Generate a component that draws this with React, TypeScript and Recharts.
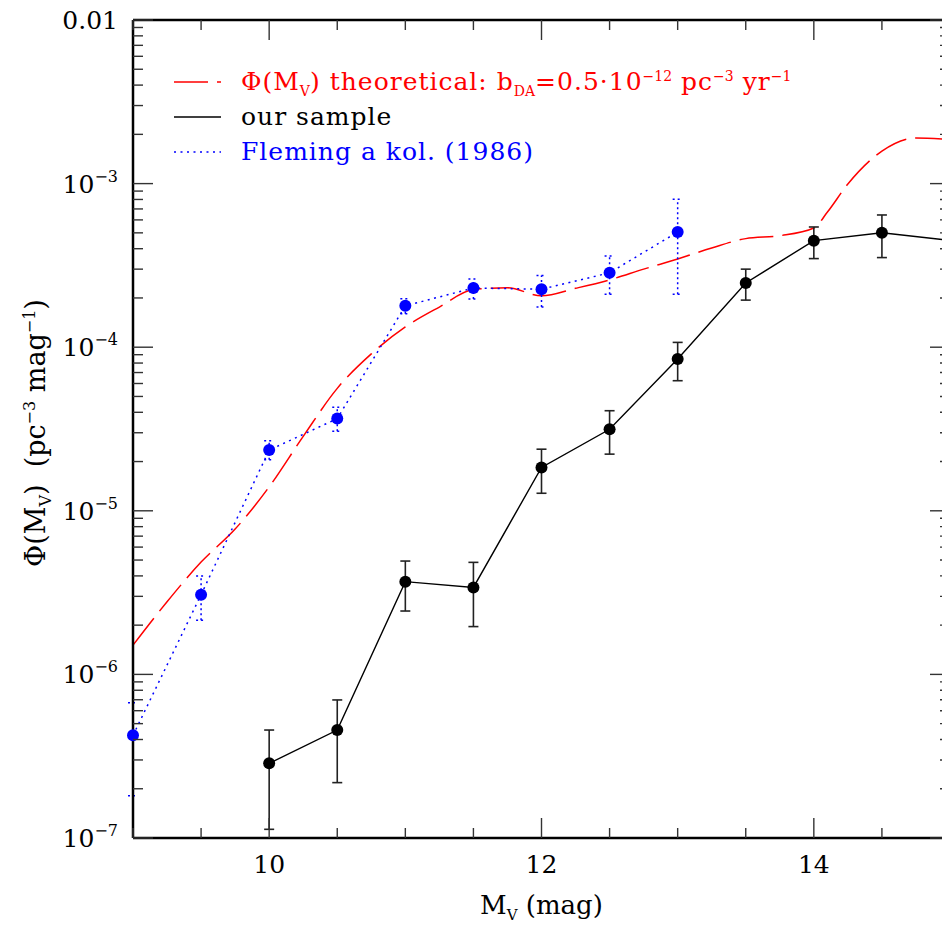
import React from 'react';
import { LineChart, Line, XAxis, YAxis, ErrorBar, Legend } from 'recharts';

const FONT = '"DejaVu Serif", "Liberation Serif", serif';
const RED = '#ff0000';
const BLUE = '#0000ff';
const TICK = '#333';

// theoretical luminosity function (dashed red)
const theoryMag = [9, 9.25, 9.5, 9.75, 10, 10.25, 10.5, 10.75, 11, 11.25, 11.5, 11.75, 12, 12.25, 12.5, 12.75, 13, 13.25, 13.5, 13.75, 14, 14.1, 14.25, 14.5, 14.75, 15];
const theoryPhi = [1.51e-6, 2.78e-6, 4.86e-6, 7.73e-6, 1.4e-5, 2.85e-5, 5.6e-5, 9.1e-5, 1.33e-4, 1.76e-4, 2.25e-4, 2.31e-4, 2.06e-4, 2.29e-4, 2.58e-4, 3.0e-4, 3.46e-4, 4.04e-4, 4.61e-4, 4.8e-4, 5.35e-4, 6.7e-4, 9.95e-4, 1.58e-3, 1.9e-3, 1.86e-3];

// our sample (black)
const sampleMag = [10, 10.5, 11, 11.5, 12, 12.5, 13, 13.5, 14, 14.5, 15];
const samplePhi = [2.86e-7, 4.57e-7, 3.69e-6, 3.4e-6, 1.84e-5, 3.15e-5, 8.47e-5, 2.47e-4, 4.48e-4, 5.01e-4, 4.5e-4];
const sampleLo = [1.13e-7, 2.18e-7, 2.44e-6, 1.96e-6, 1.28e-5, 2.22e-5, 6.24e-5, 1.94e-4, 3.48e-4, 3.53e-4, null];
const sampleHi = [4.57e-7, 6.98e-7, 4.93e-6, 4.84e-6, 2.38e-5, 4.09e-5, 1.07e-4, 3.0e-4, 5.43e-4, 6.43e-4, null];

// Fleming et al. (1986) (blue, dotted)
const flemingMag = [9, 9.5, 10, 10.5, 11, 11.5, 12, 12.5, 13];
const flemingPhi = [4.24e-7, 3.07e-6, 2.35e-5, 3.66e-5, 1.79e-4, 2.3e-4, 2.26e-4, 2.85e-4, 5.06e-4];
const flemingLo = [1.81e-7, 2.14e-6, 2.05e-5, 3.06e-5, 1.6e-4, 1.97e-4, 1.76e-4, 2.11e-4, 2.11e-4];
const flemingHi = [6.7e-7, 3.99e-6, 2.68e-5, 4.3e-5, 1.98e-4, 2.61e-4, 2.74e-4, 3.61e-4, 8.02e-4];

// axes
const xTicks = [9, 9.5, 10, 10.5, 11, 11.5, 12, 12.5, 13, 13.5, 14, 14.5, 15];
const xLabelled = [10, 12, 14];
const xMajor = [10, 12, 14];
const yDecades = [-7, -6, -5, -4, -3, -2];
const yMinor = [1, 2, 3, 4, 5, 6, 7, 8, 9];
const yTicks = yDecades.flatMap((e) => yMinor.map((m) => m * Math.pow(10, e))).filter((v) => v <= 1.0001e-2);

const legendOrder = ['theory', 'sample', 'fleming'];

const theoryData = theoryMag.map((m, i) => ({ mag: m, phi: theoryPhi[i] }));
const sampleData = sampleMag.map((m, i) => ({
  mag: m,
  phi: samplePhi[i],
  err: sampleLo[i] == null ? undefined : [samplePhi[i] - (sampleLo[i] as number), (sampleHi[i] as number) - samplePhi[i]],
}));
const flemingData = flemingMag.map((m, i) => ({
  mag: m,
  phi: flemingPhi[i],
  err: [flemingPhi[i] - flemingLo[i], flemingHi[i] - flemingPhi[i]],
}));

const isDecade = (v: number) => {
  const e = Math.round(Math.log10(v));
  return Math.abs(v / Math.pow(10, e) - 1) < 1e-6;
};

function YTickLeft(props: any) {
  const { x, y, payload } = props;
  const v = payload.value;
  const major = isDecade(v);
  const e = Math.round(Math.log10(v));
  return (
    <g>
      <line x1={x} x2={x + (major ? 20 : 10)} y1={y} y2={y} stroke={TICK} strokeWidth={1.4} />
      {major && (
        <text x={x - 15} y={y + 9} textAnchor="end" fontFamily={FONT} fontSize={25} fill="#000">
          {e === -2 ? (
            '0.01'
          ) : (
            <>
              10<tspan dy={-11} fontSize={16}>{'\u2212' + Math.abs(e)}</tspan>
            </>
          )}
        </text>
      )}
    </g>
  );
}

function YTickRight(props: any) {
  const { x, y, payload } = props;
  const major = isDecade(payload.value);
  return <line x1={x} x2={x - (major ? 20 : 10)} y1={y} y2={y} stroke={TICK} strokeWidth={1.4} />;
}

function XTickBottom(props: any) {
  const { x, y, payload } = props;
  const v = payload.value;
  const major = xMajor.includes(v);
  return (
    <g>
      <line x1={x} x2={x} y1={y} y2={y - (major ? 20 : 10)} stroke={TICK} strokeWidth={1.4} />
      {xLabelled.includes(v) && (
        <text x={x} y={y + 35} textAnchor="middle" fontFamily={FONT} fontSize={25} fill="#000">
          {v}
        </text>
      )}
    </g>
  );
}

function XTickTop(props: any) {
  const { x, y, payload } = props;
  const major = xMajor.includes(payload.value);
  return <line x1={x} x2={x} y1={y} y2={y + (major ? 20 : 10)} stroke={TICK} strokeWidth={1.4} />;
}

function XTitle(props: any) {
  const { x, y, width } = props.viewBox;
  return (
    <text x={x + width / 2} y={y + 76} textAnchor="middle" fontFamily={FONT} fontSize={26} fill="#000">
      M<tspan dy={6} fontSize={15}>V</tspan>
      <tspan dy={-6}>{'\u00a0(mag)'}</tspan>
    </text>
  );
}

function YTitle(props: any) {
  const { x, y, width, height } = props.viewBox;
  const cx = x + width - 88;
  const cy = y + height / 2 + 4;
  return (
    <text x={cx} y={cy} transform={`rotate(-90, ${cx}, ${cy})`} textAnchor="middle" fontFamily={FONT} fontSize={27} fill="#000">
      Φ(M<tspan dy={6} fontSize={16}>V</tspan>
      <tspan dy={-6}>{')\u00a0\u00a0(pc'}</tspan>
      <tspan dy={-10} fontSize={16}>{'\u22123'}</tspan>
      <tspan dy={10}>{'\u00a0mag'}</tspan>
      <tspan dy={-10} fontSize={16}>{'\u22121'}</tspan>
      <tspan dy={10}>)</tspan>
    </text>
  );
}

const sub: React.CSSProperties = { fontSize: 14, verticalAlign: '-6px', lineHeight: 0, letterSpacing: 0 };
const sup: React.CSSProperties = { fontSize: 14, verticalAlign: '9px', lineHeight: 0, letterSpacing: 0 };

const legendText: Record<string, React.ReactNode> = {
  theory: (
    <>
      Φ(M<span style={sub}>V</span>) theoretical: b<span style={sub}>DA</span>=0.5·10<span style={sup}>−12</span> pc
      <span style={sup}>−3</span> yr<span style={sup}>−1</span>
    </>
  ),
  sample: <>our sample</>,
  fleming: <>Fleming a kol. (1986)</>,
};
const legendDash: Record<string, string | undefined> = { theory: '34 9', sample: undefined, fleming: '2 4.5' };

function LegendBox(props: any) {
  const { payload = [] } = props;
  const rows = [...payload].sort((a: any, b: any) => legendOrder.indexOf(a.value) - legendOrder.indexOf(b.value));
  return (
    <div style={{ fontFamily: FONT, fontSize: 25, letterSpacing: 1 }}>
      {rows.map((p: any) => (
        <div key={p.value} style={{ display: 'flex', alignItems: 'center', height: 35, color: p.color, whiteSpace: 'nowrap' }}>
          <svg width={47} height={10} style={{ marginRight: 20 }}>
            <line x1={0} x2={47} y1={5} y2={5} stroke={p.color} strokeWidth={1.4} strokeDasharray={legendDash[p.value]} />
          </svg>
          <span>{legendText[p.value]}</span>
        </div>
      ))}
    </div>
  );
}

export default function App() {
  return (
    <div style={{ position: 'absolute', left: 0, top: 0, width: 942, height: 926, overflow: 'hidden', background: '#fff' }}>
      <LineChart width={1000} height={926} margin={{ top: 0, right: 0, bottom: 0, left: 0 }}>
        <XAxis
          xAxisId="b"
          dataKey="mag"
          type="number"
          domain={[9, 15]}
          allowDataOverflow
          ticks={xTicks}
          interval={0}
          height={88}
          tickSize={0}
          tickMargin={0}
          tickLine={false}
          tick={<XTickBottom />}
          axisLine={{ stroke: '#000', strokeWidth: 2.5 }}
          label={XTitle}
        />
        <XAxis
          xAxisId="t"
          orientation="top"
          dataKey="mag"
          type="number"
          domain={[9, 15]}
          allowDataOverflow
          ticks={xTicks}
          interval={0}
          height={20}
          tickSize={0}
          tickMargin={0}
          tickLine={false}
          tick={<XTickTop />}
          axisLine={{ stroke: '#000', strokeWidth: 2.5 }}
        />
        <YAxis
          yAxisId="l"
          type="number"
          scale="log"
          domain={[1e-7, 1e-2]}
          allowDataOverflow
          ticks={yTicks}
          interval={0}
          width={133}
          tickSize={0}
          tickMargin={0}
          tickLine={false}
          tick={<YTickLeft />}
          axisLine={{ stroke: '#000', strokeWidth: 2.5 }}
          label={YTitle}
        />
        <YAxis
          yAxisId="r"
          orientation="right"
          type="number"
          scale="log"
          domain={[1e-7, 1e-2]}
          allowDataOverflow
          ticks={yTicks}
          interval={0}
          width={50}
          tickSize={0}
          tickMargin={0}
          tickLine={false}
          tick={<YTickRight />}
          axisLine={{ stroke: '#000', strokeWidth: 2.5 }}
        />
        <Legend
          layout="vertical"
          align="center"
          verticalAlign="middle"
          content={<LegendBox />}
          wrapperStyle={{ position: 'absolute', top: 64, left: 174, width: 720, height: 110 }}
        />
        <Line
          xAxisId="b"
          yAxisId="l"
          name="theory"
          data={theoryData}
          dataKey="phi"
          type="monotone"
          stroke={RED}
          strokeWidth={1.5}
          strokeDasharray="34 9"
          dot={false}
          activeDot={false}
          legendType="line"
          isAnimationActive={false}
        />
        <Line
          xAxisId="b"
          yAxisId="l"
          name="sample"
          data={sampleData}
          dataKey="phi"
          type="linear"
          stroke="#000"
          strokeWidth={1.4}
          dot={{ r: 6, fill: '#000', stroke: 'none', clipDot: false }}
          activeDot={false}
          isAnimationActive={false}
        >
          <ErrorBar dataKey="err" direction="y" width={5} stroke="#222" strokeWidth={1.6} isAnimationActive={false} />
        </Line>
        <Line
          xAxisId="b"
          yAxisId="l"
          name="fleming"
          data={flemingData}
          dataKey="phi"
          type="linear"
          stroke={BLUE}
          strokeWidth={1.5}
          strokeDasharray="2 4.5"
          dot={{ r: 6, fill: BLUE, stroke: 'none', clipDot: false }}
          activeDot={false}
          isAnimationActive={false}
        >
          <ErrorBar dataKey="err" direction="y" width={5} stroke={BLUE} strokeWidth={1.5} strokeDasharray="2 3" isAnimationActive={false} />
        </Line>
      </LineChart>
    </div>
  );
}
